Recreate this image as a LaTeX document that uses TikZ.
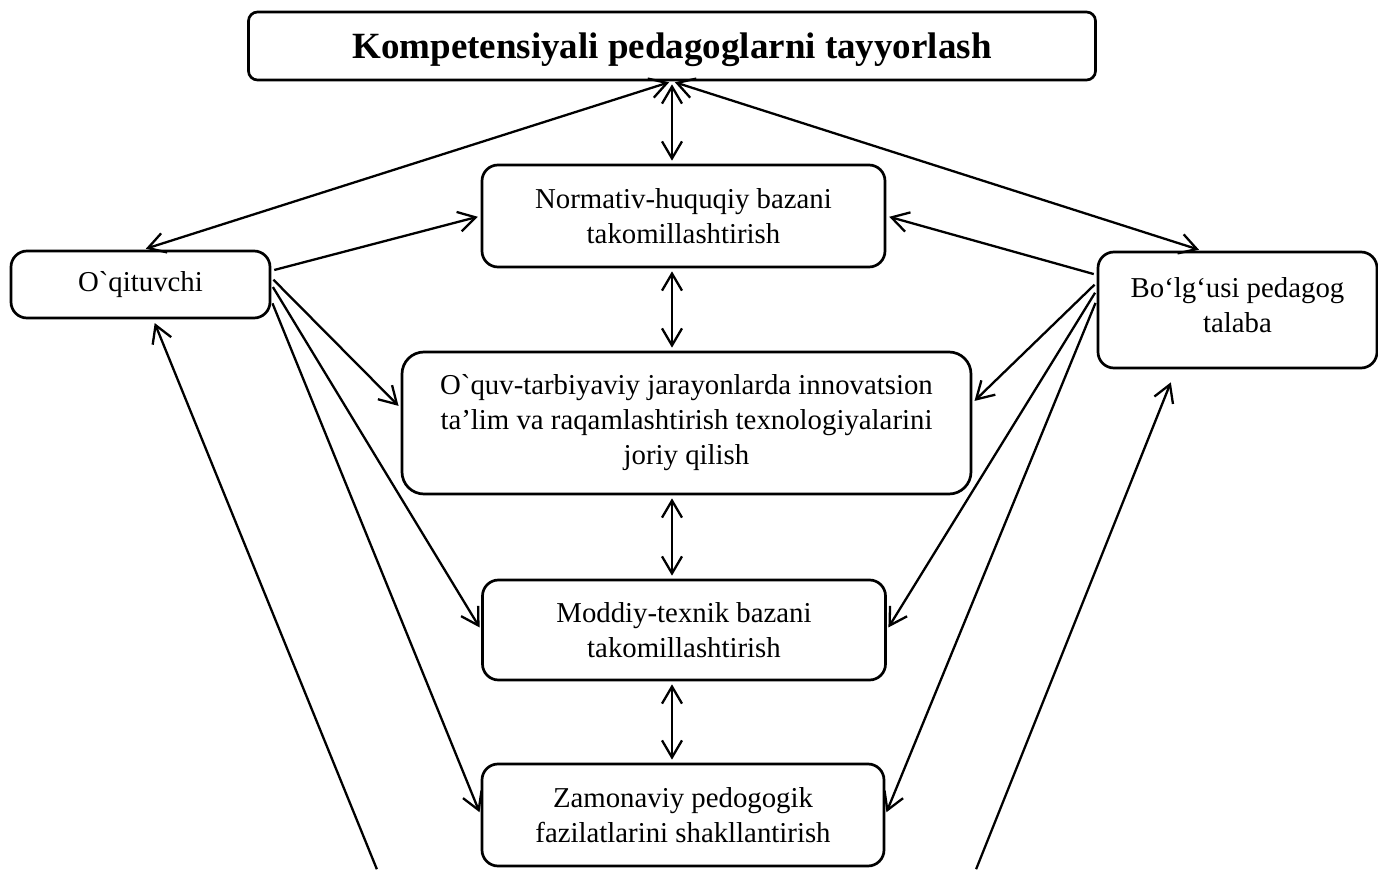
\documentclass[tikz,border=0pt]{standalone}
\usepackage{fontspec}
\setmainfont{Liberation Serif}[Ligatures=TeXOff]
\usetikzlibrary{arrows.meta}

\begin{document}
\begin{tikzpicture}[x=0.5pt,y=-0.5pt,>={Straight Barb[length=8.5pt,width=10pt]},
                    box/.style={draw, rounded corners=8pt, line width=1.35pt, align=center,
                                inner sep=2pt, font=\fontsize{14.4}{17.5}\selectfont},
                    link/.style={line width=1.15pt, shorten >=1.5pt, shorten <=1.5pt}]
\useasboundingbox (0,0) rectangle (1378,872);

\node[box, rounded corners=4.5pt, minimum width=423.5pt, minimum height=34pt, text height=16.5pt,
      font=\fontsize{18.5}{22}\selectfont\bfseries] (top) at (672,46) {Kompetensiyali pedagoglarni tayyorlash};
\node[box, minimum width=201.5pt, minimum height=51pt] (norm) at (683.5,216) {Normativ-huquqiy bazani\\takomillashtirish};
\node[box, minimum width=129.5pt, minimum height=33.5pt] (oqit) at (140.5,284.5) {O`qituvchi};
\node[box, minimum width=139.5pt, minimum height=58pt, text depth=5pt] (bolg) at (1237.5,310) {Bo‘lg‘usi pedagog\\talaba};
\node[box, rounded corners=11pt, minimum width=284.5pt, minimum height=71pt] (oquv) at (686.5,423) {O`quv-tarbiyaviy jarayonlarda innovatsion\\ta’lim va raqamlashtirish texnologiyalarini\\joriy qilish};
\node[box, minimum width=201.5pt, minimum height=50pt] (moddiy) at (684,630) {Moddiy-texnik bazani\\takomillashtirish};
\node[box, minimum width=201pt, minimum height=51pt] (zamon) at (683,815) {Zamonaviy pedogogik\\fazilatlarini shakllantirish};

\coordinate (lfoot) at (378,872);
\coordinate (rfoot) at (975,872);

% middle column
\draw[<->,link] (top.south) -- (top.south |- norm.north);
\draw[<->,link] (top.south |- norm.south) -- (top.south |- oquv.north);
\draw[<->,link] (top.south |- oquv.south) -- (top.south |- moddiy.north);
\draw[<->,link] (top.south |- moddiy.south) -- (top.south |- zamon.north);

% top to the sides
\draw[<->,link] (top.south) -- (oqit.86);
\draw[<->,link] (top.south) -- (bolg.121);

% teacher
\draw[->,link] (oqit.6) -- (norm.west);
\draw[->,link] (oqit.3) -- (oquv.177);
\draw[->,link] (oqit.east) -- (moddiy.west);
\draw[->,link] (oqit.-7) -- (zamon.west);
\draw[->,link,shorten >=2pt] (lfoot) -- (oqit.-70);

% student
\draw[->,link] (bolg.166) -- (norm.east);
\draw[->,link] (bolg.169) -- (oquv.4);
\draw[->,link] (bolg.172) -- (moddiy.east);
\draw[->,link] (bolg.176) -- (zamon.east);
\draw[->,link,shorten >=7pt] (rfoot) -- (bolg.-136);

\end{tikzpicture}
\end{document}
